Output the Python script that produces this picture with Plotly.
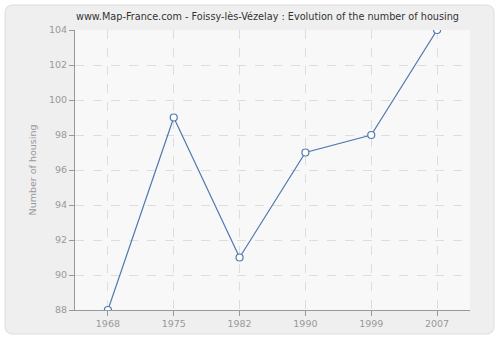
import plotly.graph_objects as go

years = ["1968", "1975", "1982", "1990", "1999", "2007"]
housing = [88, 99, 91, 97, 98, 104]
y_ticks = [88, 90, 92, 94, 96, 98, 100, 102, 104]

W, H = 500, 340
ML, MR, MT, MB = 75, 30, 30, 30
PW, PH = W - ML - MR, H - MT - MB

def px(x):
    return (x - ML) / PW

def py(y):
    return (H - MB - y) / PH

fig = go.Figure()
fig.add_trace(go.Scatter(
    x=years, y=housing, mode="lines+markers",
    line=dict(color="#4f79ad", width=1.2),
    marker=dict(symbol="circle", size=7, color="white",
                line=dict(color="#4f79ad", width=1.2)),
    hoverinfo="x+y",
))

# outer rounded panel
bx0, by0, bx1, by1, r = 5, 5, 494, 334, 8
path = (f"M {px(bx0 + r)} {py(by0)} L {px(bx1 - r)} {py(by0)} "
        f"Q {px(bx1)} {py(by0)} {px(bx1)} {py(by0 + r)} "
        f"L {px(bx1)} {py(by1 - r)} Q {px(bx1)} {py(by1)} {px(bx1 - r)} {py(by1)} "
        f"L {px(bx0 + r)} {py(by1)} Q {px(bx0)} {py(by1)} {px(bx0)} {py(by1 - r)} "
        f"L {px(bx0)} {py(by0 + r)} Q {px(bx0)} {py(by0)} {px(bx0 + r)} {py(by0)} Z")
fig.add_shape(type="path", path=path, xref="paper", yref="paper",
              line=dict(color="#dcdcdc", width=1), fillcolor="#efefef", layer="below")
# plot area background
fig.add_shape(type="rect", xref="paper", yref="paper", x0=0, x1=1, y0=0, y1=1,
              line=dict(width=0), fillcolor="#f8f8f8", layer="below")

fig.update_layout(
    width=W, height=H,
    margin=dict(l=ML, r=MR, t=MT, b=MB),
    paper_bgcolor="white",
    plot_bgcolor="rgba(0,0,0,0)",
    showlegend=False,
    title=dict(text="www.Map-France.com - Foissy-lès-Vézelay : Evolution of the number of housing",
               x=(75 + 460) / 2 / W, xanchor="center", y=1 - 17 / H, yanchor="middle",
               font=dict(family="DejaVu Sans", size=9.7, color="#333333")),
    font=dict(family="DejaVu Sans", size=9.5, color="#999999"),
    xaxis=dict(type="category", range=[-0.5, 5.5],
               showgrid=True, gridcolor="#dddddd", griddash="dash", gridwidth=1,
               showline=True, linecolor="#999999", linewidth=1,
               ticks="outside", ticklen=5, tickcolor="#999999",
               tickfont=dict(color="#999999", size=9.5), zeroline=False),
    yaxis=dict(range=[88, 104], tickvals=y_ticks,
               showgrid=True, gridcolor="#dddddd", griddash="dash", gridwidth=1,
               showline=True, linecolor="#999999", linewidth=1,
               ticks="outside", ticklen=5, tickcolor="#999999",
               tickfont=dict(color="#999999", size=9.5), zeroline=False,
               title=dict(text="Number of housing", font=dict(size=9.5, color="#999999"), standoff=10)),
)
fig.write_html("out.html")
